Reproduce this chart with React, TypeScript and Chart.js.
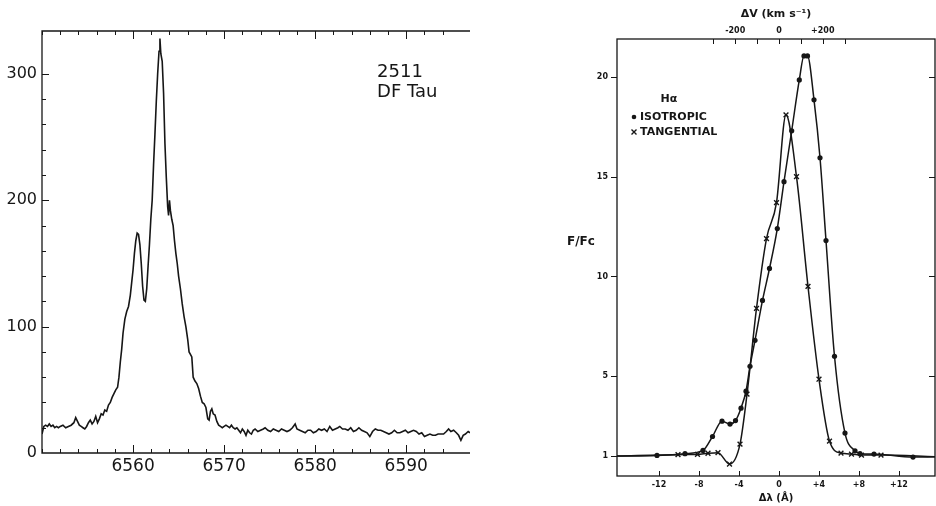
import React, { useEffect, useRef } from "react";
import { Chart, registerables } from "chart.js";
Chart.register(...registerables);

const INK = "#161616";
const FONT = "'DejaVu Sans', sans-serif";

// ---------- Left panel: DF Tau spectrum (plate 2511) ----------
const specWavelength = [
  6550.0, 6550.2, 6550.4, 6550.6, 6550.8, 6551.0, 6551.2, 6551.4, 6551.6, 6551.8,
  6552.0, 6552.3, 6552.6, 6552.9, 6553.2, 6553.5, 6553.7, 6553.9, 6554.1, 6554.3,
  6554.5, 6554.7, 6554.9, 6555.1, 6555.3, 6555.5, 6555.7, 6555.9, 6556.1, 6556.3,
  6556.5, 6556.7, 6556.9, 6557.1, 6557.3, 6557.5, 6557.7, 6557.9, 6558.1, 6558.3,
  6558.45, 6558.6, 6558.75, 6558.9, 6559.1, 6559.3, 6559.5, 6559.7, 6559.85, 6560.0,
  6560.15, 6560.3, 6560.45, 6560.6, 6560.75, 6560.9, 6561.05, 6561.2, 6561.35, 6561.5,
  6561.65, 6561.8, 6561.95, 6562.1, 6562.25, 6562.4, 6562.55, 6562.7, 6562.85, 6562.95,
  6563.05, 6563.2, 6563.35, 6563.5, 6563.65, 6563.8, 6563.9, 6564.0, 6564.1, 6564.25,
  6564.4, 6564.55, 6564.7, 6564.85, 6565.0, 6565.2, 6565.4, 6565.6, 6565.8, 6566.0,
  6566.15, 6566.3, 6566.45, 6566.6, 6566.8, 6567.0, 6567.2, 6567.4, 6567.6, 6567.8,
  6568.0, 6568.2, 6568.35, 6568.5, 6568.65, 6568.8, 6569.0, 6569.2, 6569.4, 6569.6,
  6569.8, 6570.0, 6570.2, 6570.4, 6570.6, 6570.8, 6571.0, 6571.2, 6571.4, 6571.6,
  6571.8, 6572.0, 6572.2, 6572.4, 6572.6, 6572.8, 6573.0, 6573.2, 6573.4, 6573.7,
  6574.0, 6574.3, 6574.5, 6574.8, 6575.1, 6575.4, 6575.7, 6576.0, 6576.3, 6576.6,
  6576.9, 6577.2, 6577.5, 6577.8, 6578.0, 6578.3, 6578.6, 6578.9, 6579.2, 6579.5,
  6579.8, 6580.1, 6580.4, 6580.7, 6581.0, 6581.3, 6581.6, 6581.9, 6582.2, 6582.5,
  6582.7, 6583.0, 6583.3, 6583.6, 6583.9, 6584.2, 6584.5, 6584.8, 6585.1, 6585.4,
  6585.7, 6586.0, 6586.3, 6586.6, 6586.9, 6587.2, 6587.5, 6587.8, 6588.1, 6588.4,
  6588.7, 6589.0, 6589.3, 6589.6, 6589.9, 6590.2, 6590.5, 6590.8, 6591.1, 6591.4,
  6591.7, 6592.0, 6592.3, 6592.6, 6592.9, 6593.2, 6593.5, 6593.8, 6594.1, 6594.4,
  6594.65, 6594.9, 6595.2, 6595.5, 6595.75, 6596.0, 6596.25, 6596.5, 6596.8, 6597.0,
];
const specFlux = [
  15, 21, 22, 21, 23, 21, 22, 20, 21, 20,
  21, 22, 20, 21, 22, 24, 28, 25, 22, 21,
  20, 19, 21, 24, 26, 23, 25, 29, 24, 27,
  31, 30, 34, 33, 38, 40, 44, 47, 50, 52,
  60, 72, 82, 95, 106, 112, 116, 125, 135, 145,
  158, 168, 174, 173, 165, 150, 132, 121, 120, 130,
  148, 165, 185, 200, 228, 252, 278, 300, 318, 328,
  316, 310, 285, 245, 218, 195, 188, 200, 192, 185,
  180, 168, 158, 150, 140, 130, 118, 108, 100, 90,
  80, 78, 76, 60, 57, 55, 51, 45, 40, 39,
  36, 27, 26, 33, 35, 31, 30, 25, 22, 21,
  20, 21, 22, 21, 20, 22, 20, 19, 20, 18,
  16, 19, 17, 14, 18, 16, 15, 18, 19, 17,
  18, 19, 20, 18, 17, 19, 18, 17, 19, 18,
  17, 18, 20, 23, 19, 18, 17, 16, 18, 18,
  16, 17, 19, 18, 19, 17, 21, 18, 19, 20,
  21, 19, 19, 18, 20, 17, 18, 20, 18, 17,
  16, 13, 17, 19, 18, 18, 17, 16, 15, 16,
  18, 16, 16, 17, 18, 16, 17, 18, 17, 15,
  16, 13, 14, 15, 14, 14, 15, 15, 15, 17,
  19, 17, 18, 16, 14, 10, 14, 15, 17, 16,
];
const specXRange = [6550, 6597];
const specYRange = [0, 334];
const specXMajor = [6560, 6570, 6580, 6590];
const specYMajor = [0, 100, 200, 300];
const specLabel = ["2511", "DF Tau"];

// ---------- Right panel: model H-alpha profiles ----------
const isoDL = [-16.2, -12.2, -9.4, -7.6, -6.65, -5.7, -4.9, -4.35, -3.8, -3.3, -2.9, -2.4, -1.65, -0.95, -0.17, 0.5, 1.27, 2.03, 2.5, 2.85, 3.5, 4.1, 4.7, 5.55, 6.6, 7.6, 8.1, 9.5, 13.4, 15.6];
const isoFlux = [1.0, 1.03, 1.12, 1.28, 1.98, 2.75, 2.6, 2.78, 3.4, 4.25, 5.5, 6.8, 8.8, 10.4, 12.4, 14.75, 17.3, 19.85, 21.05, 21.05, 18.85, 15.95, 11.8, 6.0, 2.15, 1.26, 1.12, 1.1, 0.95, 0.96];
const tanDL = [-16.2, -10.1, -8.15, -7.1, -6.1, -4.95, -3.9, -3.2, -2.25, -1.25, -0.25, 0.7, 1.75, 2.9, 4.0, 5.05, 6.2, 7.25, 8.25, 10.2, 15.6];
const tanFlux = [1.0, 1.07, 1.08, 1.14, 1.17, 0.6, 1.6, 4.1, 8.4, 11.9, 13.7, 18.1, 15.0, 9.5, 4.85, 1.75, 1.15, 1.1, 1.05, 1.05, 0.96];
const profXRange = [-16.2, 15.6];
const profYRange = [0, 21.9];
const profXTicks = [-12, -8, -4, 0, 4, 8, 12];
const profYTicks = [1, 5, 10, 15, 20];
const velTicks = [-300, -200, -100, 0, 100, 200, 300];
const velLabelled = [-200, 0, 200];
const legendTitle = "Hα";
const legendNames = ["ISOTROPIC", "TANGENTIAL"];
const C_KMS = 299792.458;
const LAMBDA0 = 6562.8;

const signed = (v: number) => (v > 0 ? "+" + v : String(v));

const leftDecor = {
  id: "leftDecor",
  afterDraw(chart: any) {
    const { ctx, chartArea: a, scales } = chart;
    const x = scales.x, y = scales.y;
    ctx.save();
    ctx.strokeStyle = INK;
    ctx.lineWidth = 1.3;
    ctx.beginPath();
    ctx.moveTo(a.right, a.top);
    ctx.lineTo(a.left, a.top);
    ctx.lineTo(a.left, a.bottom);
    ctx.lineTo(a.right, a.bottom);
    ctx.stroke();
    ctx.lineWidth = 1;
    ctx.beginPath();
    x.ticks.forEach((t: any) => {
      const v = t.value;
      if (Math.abs((v - specXRange[0]) % 2) > 1e-6 || v >= specXRange[1]) return;
      const px = Math.round(x.getPixelForValue(v)) + 0.5;
      const len = specXMajor.includes(v) ? 8 : 4;
      ctx.moveTo(px, a.bottom);
      ctx.lineTo(px, a.bottom - len);
      ctx.moveTo(px, a.top);
      ctx.lineTo(px, a.top + len);
    });
    y.ticks.forEach((t: any) => {
      const v = t.value;
      if (v % 20 !== 0 || v === 0) return;
      const py = Math.round(y.getPixelForValue(v)) + 0.5;
      const len = specYMajor.includes(v) ? 7 : 4;
      ctx.moveTo(a.left, py);
      ctx.lineTo(a.left + len, py);
    });
    ctx.stroke();
    ctx.fillStyle = INK;
    ctx.font = `18px ${FONT}`;
    ctx.textAlign = "left";
    ctx.textBaseline = "alphabetic";
    ctx.fillText(specLabel[0], x.getPixelForValue(6586.8), y.getPixelForValue(297.5));
    ctx.fillText(specLabel[1], x.getPixelForValue(6586.8), y.getPixelForValue(281.5));
    ctx.restore();
  },
};

const rightDecor = {
  id: "rightDecor",
  afterDraw(chart: any) {
    const { ctx, chartArea: a, scales } = chart;
    const x = scales.x, x2 = scales.x2, y = scales.y;
    ctx.save();
    ctx.strokeStyle = INK;
    ctx.lineWidth = 1.3;
    ctx.strokeRect(a.left, a.top, a.right - a.left, a.bottom - a.top);
    ctx.lineWidth = 1;
    ctx.beginPath();
    x.ticks.forEach((t: any) => {
      const px = Math.round(x.getPixelForValue(t.value)) + 0.5;
      ctx.moveTo(px, a.bottom);
      ctx.lineTo(px, a.bottom - 5);
    });
    x2.ticks.forEach((t: any) => {
      const px = Math.round(x2.getPixelForValue(t.value)) + 0.5;
      ctx.moveTo(px, a.top);
      ctx.lineTo(px, a.top + 5);
    });
    y.ticks.forEach((t: any) => {
      const py = Math.round(y.getPixelForValue(t.value)) + 0.5;
      ctx.moveTo(a.left, py);
      ctx.lineTo(a.left - 6, py);
      if (t.value !== 1) {
        ctx.moveTo(a.right, py);
        ctx.lineTo(a.right - 6, py);
      }
    });
    ctx.stroke();

    ctx.fillStyle = INK;
    ctx.textBaseline = "middle";
    ctx.textAlign = "left";
    ctx.font = `bold 12px ${FONT}`;
    ctx.fillText("F/Fc", a.left - 50, 242);

    // legend
    ctx.font = `bold 11px ${FONT}`;
    ctx.textAlign = "center";
    ctx.fillText(legendTitle, a.left + 52, 99);
    ctx.textAlign = "left";
    ctx.fillText(legendNames[0], a.left + 23, 117);
    ctx.fillText(legendNames[1], a.left + 23, 132);
    ctx.beginPath();
    ctx.arc(a.left + 17, 117, 2.3, 0, Math.PI * 2);
    ctx.fill();
    ctx.lineWidth = 1.4;
    ctx.beginPath();
    ctx.moveTo(a.left + 14.5, 129.5);
    ctx.lineTo(a.left + 19.5, 134.5);
    ctx.moveTo(a.left + 19.5, 129.5);
    ctx.lineTo(a.left + 14.5, 134.5);
    ctx.stroke();
    ctx.restore();
  },
};

export default function App() {
  const leftRef = useRef<HTMLCanvasElement | null>(null);
  const rightRef = useRef<HTMLCanvasElement | null>(null);

  useEffect(() => {
    const left = new Chart(leftRef.current as HTMLCanvasElement, {
      type: "line",
      data: {
        datasets: [
          {
            data: specWavelength.map((w, i) => ({ x: w, y: specFlux[i] })),
            borderColor: INK,
            borderWidth: 1.6,
            pointRadius: 0,
            tension: 0,
            fill: false,
          },
        ],
      },
      options: {
        animation: false,
        responsive: false,
        events: [],
        layout: { padding: { top: 31, right: 10, left: 0, bottom: 0 } },
        plugins: { legend: { display: false }, tooltip: { enabled: false } },
        scales: {
          x: {
            type: "linear",
            min: specXRange[0],
            max: specXRange[1],
            grid: { display: false, drawTicks: false },
            border: { display: false },
            ticks: {
              stepSize: 2,
              autoSkip: false,
              maxRotation: 0,
              padding: 3,
              color: INK,
              font: { family: FONT, size: 17 },
              callback: (v: any) => (specXMajor.includes(v) ? String(v) : ""),
            },
            afterFit: (s: any) => {
              s.height = 53;
            },
          },
          y: {
            type: "linear",
            min: specYRange[0],
            max: specYRange[1],
            grid: { display: false, drawTicks: false },
            border: { display: false },
            ticks: {
              stepSize: 20,
              autoSkip: false,
              padding: 5,
              color: INK,
              font: { family: FONT, size: 16 },
              callback: (v: any) => (specYMajor.includes(v) ? String(v) : ""),
            },
            afterFit: (s: any) => {
              s.width = 42;
            },
          },
        },
      },
      plugins: [leftDecor],
    } as any);

    const lastIso = isoDL.length - 1;
    const lastTan = tanDL.length - 1;
    const right = new Chart(rightRef.current as HTMLCanvasElement, {
      type: "line",
      data: {
        datasets: [
          {
            label: legendNames[0],
            data: isoDL.map((d, i) => ({ x: d, y: isoFlux[i] })),
            borderColor: INK,
            borderWidth: 1.5,
            cubicInterpolationMode: "monotone",
            pointStyle: "circle",
            pointRadius: (c: any) => (c.dataIndex === 0 || c.dataIndex === lastIso ? 0 : 2.6),
            pointBackgroundColor: INK,
            pointBorderColor: INK,
            pointBorderWidth: 0,
            fill: false,
          },
          {
            label: legendNames[1],
            data: tanDL.map((d, i) => ({ x: d, y: tanFlux[i] })),
            borderColor: INK,
            borderWidth: 1.5,
            cubicInterpolationMode: "monotone",
            pointStyle: "crossRot",
            pointRadius: (c: any) => (c.dataIndex === 0 || c.dataIndex === lastTan ? 0 : 3.4),
            pointBorderColor: INK,
            pointBorderWidth: 1.4,
            fill: false,
          },
        ],
      },
      options: {
        animation: false,
        responsive: false,
        events: [],
        layout: { padding: { top: 0, right: 1, left: 0, bottom: 0 } },
        plugins: { legend: { display: false }, tooltip: { enabled: false } },
        scales: {
          x: {
            type: "linear",
            position: "bottom",
            min: profXRange[0],
            max: profXRange[1],
            grid: { display: false, drawTicks: false },
            border: { display: false },
            afterBuildTicks: (s: any) => {
              s.ticks = profXTicks.map((value) => ({ value }));
            },
            ticks: {
              autoSkip: false,
              maxRotation: 0,
              padding: 4,
              color: INK,
              font: { family: FONT, size: 8, weight: "bold" },
              callback: (v: any) => signed(v),
            },
            title: {
              display: true,
              text: "Δλ (Å)",
              color: INK,
              font: { family: FONT, size: 10, weight: "bold" },
              padding: { top: 0, bottom: 2 },
            },
            afterFit: (s: any) => {
              s.height = 30;
            },
          },
          x2: {
            type: "linear",
            position: "top",
            min: (profXRange[0] * C_KMS) / LAMBDA0,
            max: (profXRange[1] * C_KMS) / LAMBDA0,
            grid: { display: false, drawTicks: false },
            border: { display: false },
            afterBuildTicks: (s: any) => {
              s.ticks = velTicks.map((value) => ({ value }));
            },
            ticks: {
              autoSkip: false,
              maxRotation: 0,
              padding: 3,
              color: INK,
              font: { family: FONT, size: 8, weight: "bold" },
              callback: (v: any) => (velLabelled.includes(v) ? signed(v) : ""),
            },
            title: {
              display: true,
              text: "ΔV (km s⁻¹)",
              color: INK,
              font: { family: FONT, size: 11, weight: "bold" },
              padding: { top: 8, bottom: 0 },
            },
            afterFit: (s: any) => {
              s.height = 39;
            },
          },
          y: {
            type: "linear",
            min: profYRange[0],
            max: profYRange[1],
            grid: { display: false, drawTicks: false },
            border: { display: false },
            afterBuildTicks: (s: any) => {
              s.ticks = profYTicks.map((value) => ({ value }));
            },
            ticks: {
              autoSkip: false,
              padding: 9,
              color: INK,
              font: { family: FONT, size: 8, weight: "bold" },
              callback: (v: any) => String(v),
            },
            afterFit: (s: any) => {
              s.width = 81;
            },
          },
        },
      },
      plugins: [rightDecor],
    } as any);

    return () => {
      left.destroy();
      right.destroy();
    };
  }, []);

  return (
    <div style={{ position: "absolute", left: 0, top: 0, width: 936, height: 506, background: "#fff", overflow: "hidden" }}>
      <canvas ref={leftRef} width={480} height={506} style={{ position: "absolute", left: 0, top: 0, width: 480, height: 506 }} />
      <canvas ref={rightRef} width={400} height={506} style={{ position: "absolute", left: 536, top: 0, width: 400, height: 506 }} />
    </div>
  );
}
